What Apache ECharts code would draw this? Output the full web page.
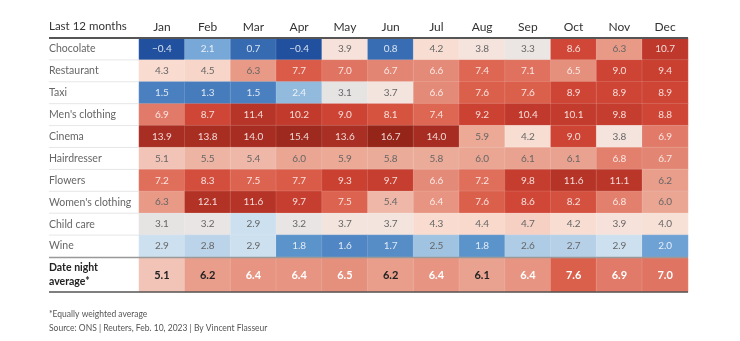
<!DOCTYPE html>
<html><head><meta charset="utf-8">
<script src="https://cdn.jsdelivr.net/npm/echarts@6/dist/echarts.min.js"></script>
<style>html,body{margin:0;padding:0;background:#fff}#c{width:740px;height:341px}</style>
</head><body><div id="c"></div>
<script>
const months = ['Jan','Feb','Mar','Apr','May','Jun','Jul','Aug','Sep','Oct','Nov','Dec'];
const categories = ['Chocolate','Restaurant','Taxi',"Men's clothing",'Cinema','Hairdresser','Flowers',"Women's clothing",'Child care','Wine'];
const chocolate = [-0.4, 2.1, 0.7, -0.4, 3.9, 0.8, 4.2, 3.8, 3.3, 8.6, 6.3, 10.7];
const restaurant = [4.3, 4.5, 6.3, 7.7, 7.0, 6.7, 6.6, 7.4, 7.1, 6.5, 9.0, 9.4];
const taxi = [1.5, 1.3, 1.5, 2.4, 3.1, 3.7, 6.6, 7.6, 7.6, 8.9, 8.9, 8.9];
const mensClothing = [6.9, 8.7, 11.4, 10.2, 9.0, 8.1, 7.4, 9.2, 10.4, 10.1, 9.8, 8.8];
const cinema = [13.9, 13.8, 14.0, 15.4, 13.6, 16.7, 14.0, 5.9, 4.2, 9.0, 3.8, 6.9];
const hairdresser = [5.1, 5.5, 5.4, 6.0, 5.9, 5.8, 5.8, 6.0, 6.1, 6.1, 6.8, 6.7];
const flowers = [7.2, 8.3, 7.5, 7.7, 9.3, 9.7, 6.6, 7.2, 9.8, 11.6, 11.1, 6.2];
const womensClothing = [6.3, 12.1, 11.6, 9.7, 7.5, 5.4, 6.4, 7.6, 8.6, 8.2, 6.8, 6.0];
const childCare = [3.1, 3.2, 2.9, 3.2, 3.7, 3.7, 4.3, 4.4, 4.7, 4.2, 3.9, 4.0];
const wine = [2.9, 2.8, 2.9, 1.8, 1.6, 1.7, 2.5, 1.8, 2.6, 2.7, 2.9, 2.0];
const dateNightLabel = 'Date night\naverage*';
const dateNight = [5.1, 6.2, 6.4, 6.4, 6.5, 6.2, 6.4, 6.1, 6.4, 7.6, 6.9, 7.0];
const rows = [chocolate, restaurant, taxi, mensClothing, cinema, hairdresser, flowers, womensClothing, childCare, wine];

// colour scale stops (style)
const stops = [
 [-0.4,'#21509e'],[0.8,'#386db3'],[1.5,'#4b80c0'],[1.8,'#5b93cb'],[2.1,'#78a8d8'],[2.4,'#92badd'],
 [2.6,'#afcce6'],[2.8,'#bcd4ea'],[2.9,'#cde0ef'],[3.1,'#e6e3e3'],[3.3,'#ebe6e4'],[3.8,'#f5e4dd'],
 [4.3,'#f9dccf'],[5.1,'#f2c4b7'],[5.5,'#edb3a3'],[6.0,'#eaa693'],[6.3,'#e89a87'],[6.6,'#e48a78'],
 [7.0,'#e07462'],[7.4,'#dd6753'],[7.7,'#da5c48'],[8.6,'#d04737'],[9.0,'#cd4434'],[10.0,'#c33b2d'],
 [10.7,'#be382b'],[11.6,'#b53427'],[14.0,'#a72d22'],[15.4,'#9e291e'],[16.7,'#952419']
];
const vmMin = -0.4, vmMax = 16.7;
function hex(c){return [1,3,5].map(i=>parseInt(c.substr(i,2),16));}
function colorAt(v){
  if (v <= stops[0][0]) return stops[0][1];
  for (let i=1;i<stops.length;i++){
    if (v <= stops[i][0]){
      const a=stops[i-1], b=stops[i], t=(v-a[0])/(b[0]-a[0]);
      const ca=hex(a[1]), cb=hex(b[1]);
      return 'rgb('+ca.map((x,k)=>Math.round(x+(cb[k]-x)*t)).join(',')+')';
    }
  }
  return stops[stops.length-1][1];
}
const N = 172, palette = [];
for (let i=0;i<N;i++) palette.push(colorAt(vmMin + (vmMax-vmMin)*i/(N-1)));

const isDark = v => v >= 6.35 || v <= 2.45;
const mainData = [];
rows.forEach((r, j) => r.forEach((v, i) => mainData.push({
  value:[i, j, v], label:{color: isDark(v) ? 'rgba(255,255,255,0.82)' : '#666'}
})));
const avgData = dateNight.map((v, i) => ({
  value:[i, 0, v], label:{color: isDark(v) ? '#fff' : '#222'}
}));

const L = 49, G = 139, R = 688, TOP = 38, MAINH = 219, AVGTOP = 258, AVGH = 34;
const fmt = p => p.value[2].toFixed(1).replace('-', '\u2212');
const font = 'Lato, "Open Sans", sans-serif';

const graphics = [];
const rowH = MAINH / categories.length;
for (let i = 1; i < categories.length; i++) {
  graphics.push({type:'line', shape:{x1:L, y1:TOP + i*rowH, x2:G, y2:TOP + i*rowH}, style:{stroke:'#e6e6e6', lineWidth:1}, z:10});
}
graphics.push({type:'line', shape:{x1:L, y1:TOP, x2:R, y2:TOP}, style:{stroke:'#555', lineWidth:2}, z:10});
graphics.push({type:'line', shape:{x1:L, y1:TOP+MAINH+0.5, x2:R, y2:TOP+MAINH+0.5}, style:{stroke:'#999', lineWidth:1.5}, z:10});
graphics.push({type:'line', shape:{x1:L, y1:AVGTOP+AVGH, x2:R, y2:AVGTOP+AVGH}, style:{stroke:'#555', lineWidth:1.5}, z:10});

const chart = echarts.init(document.getElementById('c'), null, {renderer:'canvas'});
chart.setOption({
  animation:false,
  textStyle:{fontFamily:font},
  title:[
    {text:'Last 12 months', left:L, top:20, padding:0, textStyle:{fontSize:11.5, fontWeight:'normal', color:'#333', fontFamily:font}},
    {text:'*Equally weighted average', left:L, top:310, padding:0, textStyle:{fontSize:8.5, fontWeight:'normal', color:'#555', fontFamily:font}},
    {text:'Source: ONS | Reuters, Feb. 10, 2023 | By Vincent Flasseur', left:L, top:324, padding:0, textStyle:{fontSize:8.5, fontWeight:'normal', color:'#555', fontFamily:font}}
  ],
  grid:[
    {left:G, right:740-R, top:TOP, height:MAINH},
    {left:G, right:740-R, top:AVGTOP, height:AVGH}
  ],
  xAxis:[
    {type:'category', gridIndex:0, position:'top', data:months, axisLine:{show:false}, axisTick:{show:false},
     axisLabel:{fontSize:12, color:'#333', margin:5, fontFamily:font}, splitLine:{show:false}},
    {type:'category', gridIndex:1, data:months, show:false}
  ],
  yAxis:[
    {type:'category', gridIndex:0, data:categories, inverse:true, axisLine:{show:false}, axisTick:{show:false},
     axisLabel:{align:'left', margin:G-L, fontSize:10.5, color:'#666', fontFamily:font}},
    {type:'category', gridIndex:1, data:[dateNightLabel], axisLine:{show:false}, axisTick:{show:false},
     axisLabel:{align:'left', margin:G-L, fontSize:10.5, fontWeight:'bold', color:'#222', lineHeight:14, fontFamily:font}}
  ],
  visualMap:{type:'continuous', show:false, min:vmMin, max:vmMax, dimension:2, seriesIndex:[0,1], inRange:{color:palette}},
  series:[
    {type:'heatmap', xAxisIndex:0, yAxisIndex:0, data:mainData,
     itemStyle:{borderColor:'rgba(255,255,255,0.25)', borderWidth:0.5},
     label:{show:true, formatter:fmt, fontSize:10, fontFamily:font}},
    {type:'heatmap', xAxisIndex:1, yAxisIndex:1, data:avgData,
     itemStyle:{borderColor:'rgba(255,255,255,0.25)', borderWidth:0.5},
     label:{show:true, formatter:fmt, fontSize:11, fontWeight:'bold', fontFamily:font}}
  ],
  graphic:graphics
});
</script></body></html>
